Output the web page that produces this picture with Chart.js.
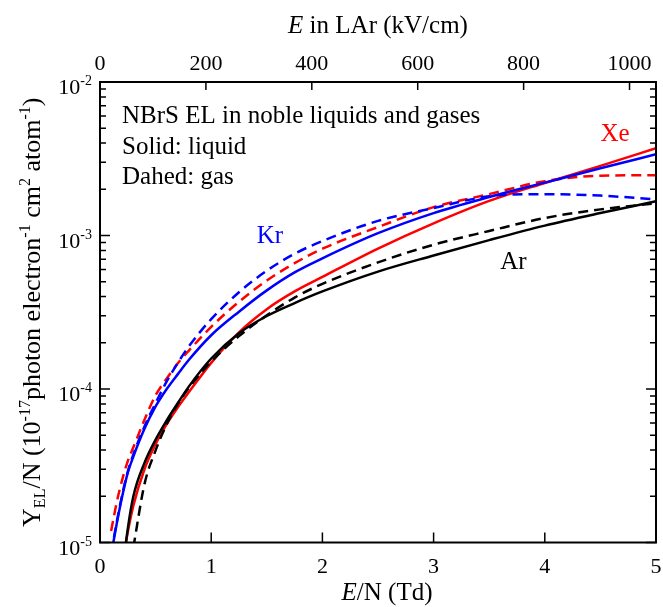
<!DOCTYPE html>
<html>
<head>
<meta charset="utf-8">
<script src="https://cdn.jsdelivr.net/npm/chart.js@4.4.0/dist/chart.umd.min.js"></script>
<style>
  body { margin:0; background:#fff; }
  #wrap { position:relative; width:663px; height:607px; }
</style>
</head>
<body>
<div id="wrap"><canvas id="nbrsChart"></canvas></div>
<script>
/*---------------------------------------------------------------------*/
/*------------------------------ DATA ---------------------------------*/
// E/N in Td, common grid for every curve
var fieldTd  = [0.1, 0.15, 0.2, 0.25, 0.3, 0.4, 0.5, 0.6, 0.7, 0.8, 1.0, 1.25, 1.5, 1.75, 2.0, 2.5, 3.0, 3.5, 4.0, 4.5, 5.0];

// Y_EL/N, 1e-17 photon electron^-1 cm^2 atom^-1 (null = below the plot)
var arLiquid = [null, null, 6.3e-6, 1.23e-5, 2.0e-5, 3.3e-5, 4.68e-5, 6.24e-5, 8.1e-5, 1.04e-4, 1.58e-4, 2.31e-4, 2.99e-4, 3.63e-4, 4.32e-4, 5.82e-4, 7.41e-4, 9.33e-4, 1.16e-3, 1.40e-3, 1.67e-3];
var arGas    = [null, null, null, null, 9.3e-6, 2.4e-5, 3.98e-5, 5.9e-5, 8.0e-5, 1.02e-4, 1.51e-4, 2.21e-4, 3.02e-4, 3.94e-4, 4.84e-4, 6.68e-4, 8.71e-4, 1.07e-3, 1.3e-3, 1.48e-3, 1.62e-3];
var krLiquid = [8.3e-6, 1.32e-5, 2.0e-5, 2.85e-5, 3.63e-5, 5.5e-5, 7.7e-5, 1.0e-4, 1.25e-4, 1.55e-4, 2.24e-4, 3.19e-4, 4.39e-4, 5.75e-4, 7.1e-4, 1.035e-3, 1.4e-3, 1.78e-3, 2.21e-3, 2.74e-3, 3.38e-3];
var krGas    = [8.5e-6, 1.35e-5, 2.05e-5, 2.9e-5, 3.75e-5, 5.7e-5, 8.1e-5, 1.12e-4, 1.48e-4, 1.9e-4, 2.85e-4, 4.27e-4, 5.9e-4, 7.6e-4, 9.2e-4, 1.245e-3, 1.51e-3, 1.8e-3, 1.86e-3, 1.82e-3, 1.72e-3];
var xeLiquid = [null, null, 7.1e-6, 1.17e-5, 1.74e-5, 3.0e-5, 4.37e-5, 5.9e-5, 7.6e-5, 9.55e-5, 1.48e-4, 2.34e-4, 3.31e-4, 4.32e-4, 5.37e-4, 8.22e-4, 1.2e-3, 1.68e-3, 2.2e-3, 2.84e-3, 3.71e-3];
var xeGas    = [1.19e-5, 1.82e-5, 2.57e-5, 3.39e-5, 4.17e-5, 6.3e-5, 9.1e-5, 1.17e-4, 1.47e-4, 1.78e-4, 2.54e-4, 3.7e-4, 5.09e-4, 6.6e-4, 8.2e-4, 1.135e-3, 1.53e-3, 1.86e-3, 2.26e-3, 2.45e-3, 2.47e-3];

// axes
var tdTicks  = [0, 1, 2, 3, 4, 5];
var kvTicks  = [0, 200, 400, 600, 800, 1000];
var kvMax    = 1050;           // 5 Td in liquid argon
var yDecades = [-5, -4, -3, -2];

// curve labels: name, colour, E/N, Y (left/baseline)
var gasLabels = [
  ['Kr', '#0000ff', 1.41, 8.95e-4],
  ['Xe', '#ff0000', 4.50, 4.13e-3],
  ['Ar', '#000000', 3.60, 6.05e-4],
];
var noteLines = ['NBrS EL in noble liquids and gases', 'Solid: liquid', 'Dahed: gas'];


/*---------------------------------------------------------------------*/
/*------------------------- TEXT HELPERS ------------------------------*/
var SERIF = '"Liberation Serif", "DejaVu Serif", serif';

function setFont(ctx, p){
  ctx.font = (p.italic ? 'italic ' : '') + p.size + 'px ' + SERIF;
}

// draw a line of text made of several parts (sub/superscripts, italics)
function drawRich(ctx, parts, x, y, align){
  var total = 0;
  parts.forEach(function(p){
    setFont(ctx, p);
    p.w = ctx.measureText(p.t).width;
    total += p.w;
  });
  var cx = x;
  if (align == 'center') cx = x - total / 2;
  if (align == 'right') cx = x - total;
  ctx.textAlign = 'left';
  ctx.textBaseline = 'alphabetic';
  parts.forEach(function(p){
    setFont(ctx, p);
    ctx.fillStyle = p.color || '#000';
    ctx.fillText(p.t, cx, y + (p.dy || 0));
    cx += p.w;
  });
}

function serie(values){
  return fieldTd.map(function(x, i){ return {x: x, y: values[i]}; });
}


/*---------------------------------------------------------------------*/
/*------------------ FRAME, TICKS AND ALL THE TEXT --------------------*/
var decorPlugin = {
  id: 'decor',
  afterDraw: function(chart){
    var ctx = chart.ctx,
      a = chart.chartArea,
      sx = chart.scales.x,
      sk = chart.scales.xKv,
      sy = chart.scales.y;

    ctx.save();
    ctx.strokeStyle = '#000';

    // ticks
    ctx.lineWidth = 1.5;
    ctx.beginPath();
    tdTicks.forEach(function(t){
      var px = sx.getPixelForValue(t);
      ctx.moveTo(px, a.bottom); ctx.lineTo(px, a.bottom - 10);
    });
    kvTicks.forEach(function(t){
      var px = sk.getPixelForValue(t);
      ctx.moveTo(px, a.top); ctx.lineTo(px, a.top + 8);
    });
    yDecades.forEach(function(d){
      for (var m = 1; m <= 9; m++) {
        if (d == -2 && m > 1) break;
        var py = sy.getPixelForValue(m * Math.pow(10, d));
        var len = (m == 1) ? 10 : 6;
        ctx.moveTo(a.left, py); ctx.lineTo(a.left + len, py);
        ctx.moveTo(a.right, py); ctx.lineTo(a.right - len, py);
      }
    });
    ctx.stroke();

    // frame
    ctx.lineWidth = 2;
    ctx.strokeRect(a.left, a.top, a.right - a.left, a.bottom - a.top);

    // tick labels
    tdTicks.forEach(function(t){
      drawRich(ctx, [{t: String(t), size: 22}], sx.getPixelForValue(t), a.bottom + 30, 'center');
    });
    kvTicks.forEach(function(t){
      drawRich(ctx, [{t: String(t), size: 22}], sk.getPixelForValue(t), a.top - 12, 'center');
    });
    yDecades.forEach(function(d){
      var py = sy.getPixelForValue(Math.pow(10, d));
      drawRich(ctx, [{t: '10', size: 22}, {t: String(d), size: 14, dy: -9}], a.left - 8, py + 12, 'right');
    });

    // axis titles
    drawRich(ctx, [{t: 'E', size: 25, italic: true}, {t: ' in LAr (kV/cm)', size: 25}], (a.left + a.right) / 2, 33, 'center');
    drawRich(ctx, [{t: 'E', size: 25, italic: true}, {t: '/N (Td)', size: 25}], (a.left + a.right) / 2 + 9, a.bottom + 57, 'center');

    ctx.save();
    ctx.translate(40, (a.top + a.bottom) / 2);
    ctx.rotate(-Math.PI / 2);
    drawRich(ctx, [
      {t: 'Y', size: 26},
      {t: 'EL', size: 16, dy: 5},
      {t: '/N (10', size: 26},
      {t: '-17', size: 16, dy: -10},
      {t: 'photon electron', size: 26},
      {t: '-1', size: 16, dy: -10},
      {t: ' cm', size: 26},
      {t: '2', size: 16, dy: -10},
      {t: ' atom', size: 26},
      {t: '-1', size: 16, dy: -10},
      {t: ')', size: 26},
    ], 0, 0, 'center');
    ctx.restore();

    // note in the upper left corner
    noteLines.forEach(function(txt, i){
      drawRich(ctx, [{t: txt, size: 25}], a.left + 22, a.top + 41 + i * 30.5, 'left');
    });

    // gas names next to the curves
    gasLabels.forEach(function(g){
      drawRich(ctx, [{t: g[0], size: 25, color: g[1]}], sx.getPixelForValue(g[2]), sy.getPixelForValue(g[3]), 'left');
    });

    ctx.restore();
  },
};


/*---------------------------------------------------------------------*/
/*----------------------------- CHART ---------------------------------*/
function lineSet(label, values, color, dashed){
  return {
    label: label,
    data: serie(values),
    borderColor: color,
    backgroundColor: color,
    borderWidth: 2.5,
    borderDash: dashed ? [10, 6] : [],
    pointRadius: 0,
    fill: false,
    cubicInterpolationMode: 'monotone',
  };
}

function hiddenAxis(extra){
  var base = {
    display: true,
    ticks: {display: false},
    grid: {display: false},
    border: {display: false},
  };
  for (var k in extra) base[k] = extra[k];
  return base;
}

var nbrs = new Chart(document.getElementById('nbrsChart').getContext('2d'), {
  type: 'line',
  data: {
    datasets: [
      lineSet('Ar liquid', arLiquid, '#000000', false),
      lineSet('Ar gas', arGas, '#000000', true),
      lineSet('Kr liquid', krLiquid, '#0000ff', false),
      lineSet('Kr gas', krGas, '#0000ff', true),
      lineSet('Xe gas', xeGas, '#ff0000', true),
      lineSet('Xe liquid', xeLiquid, '#ff0000', false),
    ],
  },
  options: {
    responsive: true,
    maintainAspectRatio: false,
    animation: false,
    layout: {padding: {right: 7, left: 0, top: 0, bottom: 0}},
    plugins: {legend: {display: false}, tooltip: {enabled: false}},
    scales: {
      x: hiddenAxis({type: 'linear', position: 'bottom', min: 0, max: 5,
        afterFit: function(s){ s.height = 64.5; }}),
      xKv: hiddenAxis({type: 'linear', position: 'top', min: 0, max: kvMax,
        afterFit: function(s){ s.height = 82; }}),
      y: hiddenAxis({type: 'logarithmic', position: 'left', min: 1e-5, max: 1e-2,
        afterFit: function(s){ s.width = 100; }}),
    },
  },
  plugins: [decorPlugin],
});
</script>
</body>
</html>
